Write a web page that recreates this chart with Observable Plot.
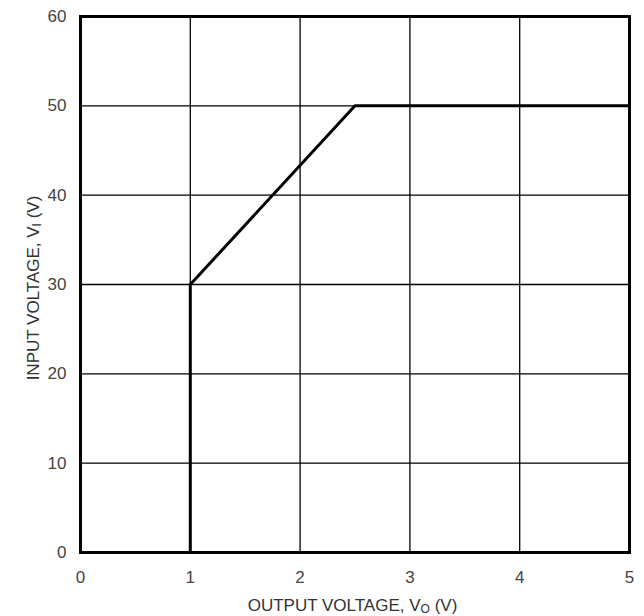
<!DOCTYPE html>
<html>
<head>
<meta charset="utf-8">
<script src="https://cdn.jsdelivr.net/npm/d3@7"></script>
<script src="https://cdn.jsdelivr.net/npm/@observablehq/plot@0.6"></script>
<style>
  body { margin: 0; background: #fff; }
  #chart { width: 644px; height: 616px; }
</style>
</head>
<body>
<div id="chart"></div>
<script>
const outputVoltage = [0, 1, 1, 2.5, 5];
const inputVoltage = [0, 0, 30, 50, 50];
const xTicks = [0, 1, 2, 3, 4, 5];
const yTicks = [0, 10, 20, 30, 40, 50, 60];

const curve = outputVoltage.map((v, i) => ({ vo: v, vi: inputVoltage[i] }));

const W = 644, H = 616;
const mL = 80, mR = 15, mT = 16, mB = 64;
const FONT = "'Liberation Sans', Arial, sans-serif";

const plot = Plot.plot({
  width: W,
  height: H,
  marginLeft: mL,
  marginRight: mR,
  marginTop: mT,
  marginBottom: mB,
  style: { fontFamily: FONT, fontSize: "17px", color: "#444", background: "#fff" },
  x: { domain: [0, 5], ticks: xTicks, label: null },
  y: { domain: [0, 60], ticks: yTicks, label: null },
  marks: [
    Plot.gridX(xTicks.slice(1, -1), { stroke: "#000", strokeOpacity: 1, strokeWidth: 1.3 }),
    Plot.gridY(yTicks.slice(1, -1), { stroke: "#000", strokeOpacity: 1, strokeWidth: 1.3 }),
    Plot.line(curve, { x: "vo", y: "vi", stroke: "#000", strokeWidth: 3, strokeLinejoin: "miter" }),
    Plot.frame({ stroke: "#000", strokeWidth: 3 }),
    Plot.axisX({ ticks: xTicks, tickSize: 0, tickPadding: 18, fill: "#444", fontSize: 17, tickFormat: d3.format("d"), label: null }),
    Plot.axisY({ ticks: yTicks, tickSize: 0, tickPadding: 14, fill: "#444", fontSize: 17, tickFormat: d3.format("d"), label: null })
  ]
});

document.getElementById("chart").appendChild(plot);

const svg = d3.select(plot);
const cx = mL + (W - mL - mR) / 2;

const xl = svg.append("text")
  .attr("x", cx - 2)
  .attr("y", 611)
  .attr("text-anchor", "middle")
  .attr("fill", "#333")
  .style("font-family", FONT)
  .style("font-size", "17px");
xl.append("tspan").text("OUTPUT VOLTAGE, V");
xl.append("tspan").attr("font-size", "12px").attr("dy", "2").text("O");
xl.append("tspan").attr("dy", "-2").text(" (V)");

const yl = svg.append("text")
  .attr("transform", `translate(39,${288}) rotate(-90)`)
  .attr("text-anchor", "middle")
  .attr("fill", "#333")
  .style("font-family", FONT)
  .style("font-size", "17px");
yl.append("tspan").text("INPUT VOLTAGE, V");
yl.append("tspan").attr("font-size", "12px").attr("dy", "2").text("I");
yl.append("tspan").attr("dy", "-2").text(" (V)");
</script>
</body>
</html>
